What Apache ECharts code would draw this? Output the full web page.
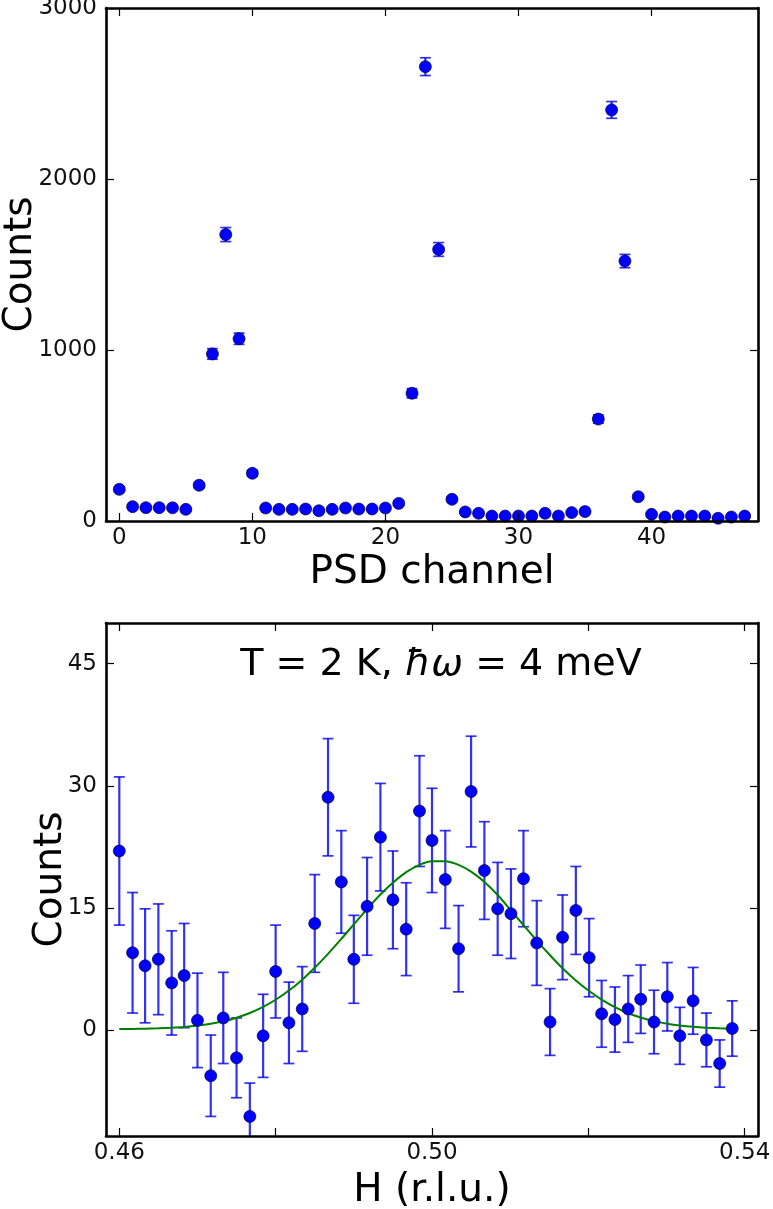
<!DOCTYPE html>
<html><head><meta charset="utf-8">
<script src="https://cdn.jsdelivr.net/npm/echarts@6/dist/echarts.min.js"></script>
<style>html,body{margin:0;padding:0;background:#fff}#c{width:773px;height:1209px}</style>
</head><body><div id="c"></div>
<script>
// ---------- data: top panel ----------
const psdChannels = [0,1,2,3,4,5,6,7,8,9,10,11,12,13,14,15,16,17,18,19,20,21,22,23,24,25,26,27,28,29,30,31,32,33,34,35,36,37,38,39,40,41,42,43,44,45,46,47];
const psdCounts = [185,84,78,78,77,68,209,977,1675,1066,279,76,68,68,70,60,68,76,70,70,76,103,747,2657,1588,127,53,45,29,29,29,29,45,29,49,55,596,2404,1520,142,39,23,29,29,29,16,23,29];
const psdErrors = [14,9,9,9,9,8,14,31,41,33,17,9,8,8,8,8,8,9,8,8,9,10,27,52,40,11,7,7,5,5,5,5,7,5,7,7,24,49,39,12,6,5,5,5,5,4,5,5];
const psdTicks = [0,10,20,30,40];
const psdCountTicks = [0,1000,2000,3000];

// ---------- data: bottom panel ----------
const hValues = [0.4600,0.4617,0.4633,0.4650,0.4667,0.4683,0.4700,0.4717,0.4733,0.4750,0.4767,0.4784,0.4800,0.4817,0.4834,0.4850,0.4867,0.4884,0.4900,0.4917,0.4934,0.4950,0.4967,0.4984,0.5000,0.5017,0.5034,0.5050,0.5067,0.5084,0.5101,0.5117,0.5134,0.5151,0.5167,0.5184,0.5201,0.5217,0.5234,0.5251,0.5267,0.5284,0.5301,0.5317,0.5334,0.5351,0.5368,0.5384];
const hCounts = [22.0,9.5,7.9,8.7,5.8,6.7,1.2,-5.6,1.5,-3.4,-10.6,-0.7,7.2,0.9,2.6,13.1,28.6,18.2,8.7,15.2,23.7,16.0,12.4,26.9,23.3,18.5,10.0,29.3,19.6,14.9,14.3,18.6,10.7,1.0,11.4,14.7,8.9,2.0,1.3,2.6,3.8,1.0,4.1,-0.7,3.6,-1.2,-4.1,0.2];
const hErrors = [9.1,7.4,7.0,6.8,6.4,6.4,5.8,5.0,5.6,4.9,4.1,5.1,5.7,5.0,5.2,6.0,7.2,6.3,5.4,6.0,6.6,6.0,5.7,6.8,6.4,6.0,5.3,6.8,6.0,5.7,5.5,5.9,5.2,4.1,5.2,5.4,4.8,4.1,4.0,4.1,4.2,3.9,4.2,3.5,4.1,3.3,2.9,3.4];
const hFit = [0.13,0.15,0.17,0.22,0.30,0.40,0.56,0.79,1.09,1.53,2.10,2.85,3.73,4.86,6.20,7.66,9.37,11.2,13.0,14.87,16.65,18.1,19.4,20.3,20.73,20.75,20.3,19.46,18.2,16.6,14.7,12.9,11.0,9.2,7.6,6.1,4.8,3.75,2.82,2.08,1.55,1.11,0.79,0.57,0.41,0.30,0.22,0.17];
const hTicks = [0.46,0.48,0.50,0.52,0.54];
const hLabelTicks = [0.46,0.50,0.54];
const hCountTicks = [0,15,30,45];

// ---------- styles ----------
const FONT = 'DejaVu Sans';
const markerColor = '#0000ff';
const errColor = 'rgba(0,0,235,0.8)';

function errRender(params, api) {
  const x = api.value(0), y = api.value(1), e = api.value(2);
  const top = api.coord([x, y + e]);
  const bot = api.coord([x, y - e]);
  const cap = 5.5;
  return {
    type: 'group',
    children: [
      {type: 'line', shape: {x1: top[0], y1: top[1], x2: bot[0], y2: bot[1]}, style: {stroke: errColor, lineWidth: 2.2}},
      {type: 'line', shape: {x1: top[0] - cap, y1: top[1], x2: top[0] + cap, y2: top[1]}, style: {stroke: errColor, lineWidth: 1.7}},
      {type: 'line', shape: {x1: bot[0] - cap, y1: bot[1], x2: bot[0] + cap, y2: bot[1]}, style: {stroke: errColor, lineWidth: 1.7}}
    ]
  };
}

const axisLineStyle = {show: true, onZero: false, lineStyle: {color: '#000', width: 2.6}};
const tickStyle = {show: true, inside: true, length: 8, lineStyle: {color: '#000', width: 1.2}};
const labelStyle = {fontFamily: FONT, fontSize: 23, color: '#111'};

function makeX(gridIndex, min, max, ticks, labels, fmt, name, nameGap) {
  return [
    {type: 'value', gridIndex, min, max, position: 'bottom', z: 5,
     axisLine: axisLineStyle,
     axisTick: Object.assign({customValues: ticks}, tickStyle),
     axisLabel: Object.assign({customValues: labels, margin: 6, formatter: fmt}, labelStyle),
     splitLine: {show: false},
     name, nameLocation: 'middle', nameGap,
     nameTextStyle: {fontFamily: FONT, fontSize: 39, color: '#000'}},
    {type: 'value', gridIndex, min, max, position: 'top', z: 5,
     axisLine: axisLineStyle,
     axisTick: Object.assign({customValues: ticks}, tickStyle),
     axisLabel: {show: false}, splitLine: {show: false}}
  ];
}
function makeY(gridIndex, min, max, ticks, name, nameGap) {
  return [
    {type: 'value', gridIndex, min, max, position: 'left', z: 5,
     axisLine: axisLineStyle,
     axisTick: Object.assign({customValues: ticks}, tickStyle),
     axisLabel: Object.assign({customValues: ticks, margin: 9, formatter: v => String(v)}, labelStyle),
     splitLine: {show: false},
     name, nameLocation: 'middle', nameGap, nameRotate: 90, nameMoveOverlap: false,
     nameTextStyle: {fontFamily: FONT, fontSize: 39, color: '#000'}},
    {type: 'value', gridIndex, min, max, position: 'right', z: 5,
     axisLine: axisLineStyle,
     axisTick: Object.assign({customValues: ticks}, tickStyle),
     axisLabel: {show: false}, splitLine: {show: false}}
  ];
}

const xAxes = [].concat(
  makeX(0, -1, 48, psdTicks, psdTicks, v => String(v), 'PSD channel', 32),
  makeX(1, 0.4583, 0.5417, hTicks, hLabelTicks, v => v.toFixed(2), 'H (r.l.u.)', 35)
);
const yAxes = [].concat(
  makeY(0, 0, 3000, psdCountTicks, 'Counts', 66),
  makeY(1, -13, 50, hCountTicks, 'Counts', 36)
);

const psdErrData = psdChannels.map((c, i) => [c, psdCounts[i], psdErrors[i]]);
const psdPts = psdChannels.map((c, i) => [c, psdCounts[i]]);
const hErrData = hValues.map((h, i) => [h, hCounts[i], hErrors[i]]);
const hPts = hValues.map((h, i) => [h, hCounts[i]]);
const hFitPts = hValues.map((h, i) => [h, hFit[i]]);

const markerStyle = {color: markerColor, borderColor: '#000033', borderWidth: 0.7, opacity: 1};

const option = {
  backgroundColor: '#fff',
  animation: false,
  title: {
    text: 'T = 2 K, {i|ħω} = 4 meV',
    left: 436, top: 641, textAlign: 'center',
    textStyle: {
      fontFamily: FONT, fontSize: 38, fontWeight: 'normal', color: '#000',
      rich: {i: {fontFamily: FONT, fontSize: 38, fontStyle: 'italic', color: '#000'}}
    }
  },
  grid: [
    {left: 106, top: 8, width: 652, height: 513, containLabel: false, outerBoundsMode: 'none'},
    {left: 106, top: 623, width: 652, height: 513, containLabel: false, outerBoundsMode: 'none'}
  ],
  xAxis: xAxes,
  yAxis: yAxes,
  series: [
    {type: 'custom', xAxisIndex: 0, yAxisIndex: 0, data: psdErrData, renderItem: errRender, clip: true, z: 2},
    {type: 'scatter', xAxisIndex: 0, yAxisIndex: 0, data: psdPts, symbolSize: 12, itemStyle: markerStyle, z: 4, clip: true},
    {type: 'custom', xAxisIndex: 2, yAxisIndex: 2, data: hErrData, renderItem: errRender, clip: true, z: 2},
    {type: 'line', xAxisIndex: 2, yAxisIndex: 2, data: hFitPts, smooth: 0.3, showSymbol: false, symbol: 'none',
     lineStyle: {color: '#008000', width: 2}, z: 3},
    {type: 'scatter', xAxisIndex: 2, yAxisIndex: 2, data: hPts, symbolSize: 12, itemStyle: markerStyle, z: 4, clip: true}
  ]
};
const chart = echarts.init(document.getElementById('c'), null, {renderer: 'canvas'});
chart.setOption(option);
</script>
</body></html>
